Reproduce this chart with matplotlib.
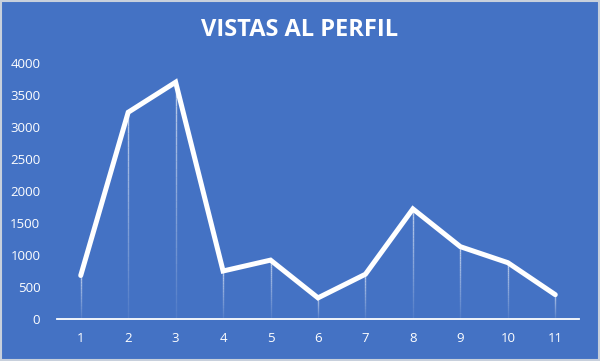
import numpy as np
import matplotlib
matplotlib.use("Agg")
import matplotlib.pyplot as plt
from matplotlib.collections import LineCollection

# data
categories = ["1", "2", "3", "4", "5", "6", "7", "8", "9", "10", "11"]
views = [680, 3230, 3700, 750, 920, 330, 700, 1720, 1130, 880, 380]
yticks = [0, 500, 1000, 1500, 2000, 2500, 3000, 3500, 4000]

BG = "#4472C4"
plt.rcParams["font.family"] = ["Open Sans", "DejaVu Sans"]

fig = plt.figure(figsize=(6.0, 3.61), dpi=100, facecolor=BG)
ax = fig.add_axes([57 / 600, 1 - 319 / 361, (579 - 57) / 600, (319 - 63) / 361])
ax.set_facecolor(BG)

x = np.arange(len(categories))

# drop lines fading towards the axis
segs, cols = [], []
n = 30
for xi, yi in zip(x, views):
    edges = np.linspace(0, yi, n + 1)
    for k in range(n):
        segs.append([(xi, edges[k]), (xi, edges[k + 1])])
        cols.append((1, 1, 1, 0.05 + 0.6 * (k + 1) / n))
ax.add_collection(LineCollection(segs, colors=cols, linewidths=1.0, zorder=2))

ax.plot(x, views, color="white", lw=3.6, solid_joinstyle="miter",
        solid_capstyle="round", zorder=3)

ax.set_xlim(-0.5, len(categories) - 0.5)
ax.set_ylim(0, 4000)
ax.set_xticks(x)
ax.set_xticklabels(categories)
ax.set_yticks(yticks)

for s in ["top", "right", "left"]:
    ax.spines[s].set_visible(False)
ax.spines["bottom"].set_color("white")
ax.spines["bottom"].set_linewidth(1.3)
ax.tick_params(axis="both", length=0, colors="white", labelsize=9.5)
ax.tick_params(axis="x", pad=9)
ax.tick_params(axis="y", pad=12)

fig.text(0.5, 1 - 30 / 361, "VISTAS AL PERFIL", ha="center", va="center",
         color="white", fontsize=17, fontweight="bold")

# thin frame around the chart
fig.patches.append(plt.Rectangle((0.002, 0.003), 0.996, 0.994, transform=fig.transFigure,
                                 fill=False, edgecolor="#c8d0dc", lw=1.5))

fig.savefig("out.png", dpi=100, facecolor=BG)
